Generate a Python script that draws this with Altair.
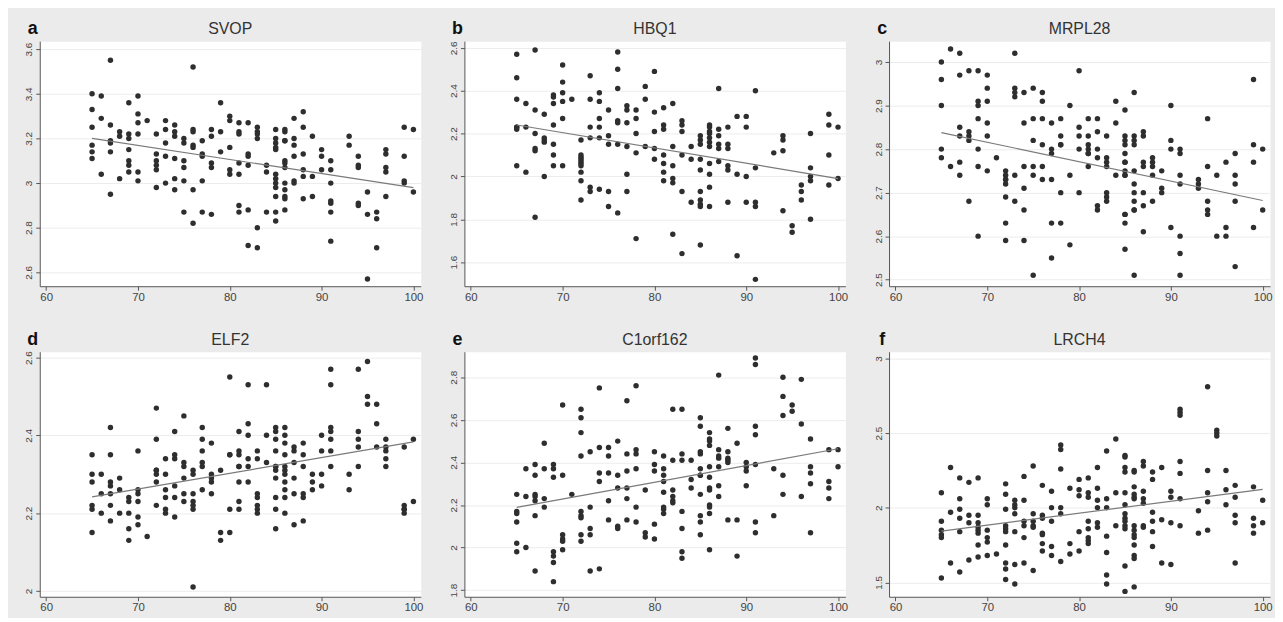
import altair as alt
import pandas as pd

X_TICKS = [60, 70, 80, 90, 100]
X_DOMAIN = [59.3, 100.8]
FIT_X = [65, 100]

SVOP = {
    65: [3.40, 3.33, 3.25, 3.17, 3.14, 3.11], 66: [3.39, 3.29, 3.04],
    67: [3.55, 3.26, 3.19, 3.18, 3.14, 2.95], 68: [3.23, 3.21, 3.02],
    69: [3.36, 3.22, 3.20, 3.15, 3.10, 3.08, 3.05], 70: [3.39, 3.31, 3.27, 3.22, 3.05, 3.01],
    71: [3.28], 72: [3.22, 3.13, 3.10, 3.08, 3.06, 2.98], 73: [3.28, 3.24, 3.18, 3.12, 3.00],
    74: [3.26, 3.23, 3.21, 3.11, 3.02, 2.97], 75: [3.20, 3.18, 3.10, 3.07, 3.01, 2.87],
    76: [3.52, 3.24, 3.23, 3.17, 3.16, 2.97, 2.82], 77: [3.19, 3.13, 3.12, 3.01, 2.87],
    78: [3.24, 3.21, 3.09, 3.07, 2.86], 79: [3.36, 3.23, 3.14], 80: [3.30, 3.28, 3.16, 3.06, 3.04],
    81: [3.27, 3.23, 3.22, 3.09, 3.04, 2.90, 2.87], 82: [3.27, 3.13, 3.12, 3.08, 2.88, 2.72],
    83: [3.25, 3.23, 3.22, 3.20, 2.80, 2.71], 84: [3.08, 3.05, 2.87],
    85: [3.24, 3.20, 3.18, 3.16, 3.15, 3.04, 3.02, 3.00, 2.98, 2.94, 2.87, 2.83],
    86: [3.24, 3.23, 3.19, 3.19, 3.10, 3.09, 3.07, 3.00, 2.97, 2.94, 2.93, 2.88],
    87: [3.29, 3.20, 3.17, 3.12, 3.01, 3.00], 88: [3.32, 3.25, 3.13, 3.06, 3.03, 2.93],
    89: [3.21, 3.03, 2.94], 90: [3.15, 3.12, 3.06], 91: [3.10, 3.06, 3.00, 2.92, 2.91, 2.87, 2.74],
    93: [3.21, 3.17], 94: [3.12, 3.08, 3.07, 2.91, 2.90], 95: [2.96, 2.86, 2.57],
    96: [2.87, 2.84, 2.71], 97: [3.15, 3.13, 3.07, 3.05, 2.94], 99: [3.25, 3.12, 3.01, 3.00],
    100: [3.24, 2.96],
}
HBQ1 = {
    65: [2.57, 2.46, 2.36, 2.23, 2.23, 2.22, 2.05], 66: [2.34, 2.23, 2.02],
    67: [2.59, 2.31, 2.20, 2.13, 2.12, 1.81], 68: [2.29, 2.18, 2.17, 2.16, 2.00],
    69: [2.38, 2.37, 2.34, 2.24, 2.15, 2.10, 2.05], 70: [2.52, 2.44, 2.39, 2.35, 2.27, 2.05],
    71: [2.36], 72: [2.17, 2.10, 2.09, 2.08, 2.07, 2.06, 2.05, 2.02, 1.98, 1.89],
    73: [2.47, 2.36, 2.23, 2.18, 1.95, 1.93], 74: [2.39, 2.35, 2.27, 2.23, 2.18, 1.94],
    75: [2.31, 2.19, 2.15, 1.93, 1.86], 76: [2.58, 2.50, 2.41, 2.26, 2.25, 2.15, 1.83],
    77: [2.33, 2.31, 2.25, 2.14, 2.01, 1.93], 78: [2.31, 2.27, 2.20, 2.11, 1.71],
    79: [2.42, 2.36, 2.14], 80: [2.49, 2.30, 2.21, 2.13, 2.08],
    81: [2.32, 2.24, 2.22, 2.10, 2.06, 2.02, 1.98], 82: [2.34, 2.14, 2.05, 1.99, 1.97, 1.73],
    83: [2.26, 2.24, 2.21, 2.10, 1.93, 1.64], 84: [2.14, 2.08, 1.88],
    85: [2.19, 2.17, 2.15, 2.08, 2.03, 1.93, 1.89, 1.87, 1.86, 1.68],
    86: [2.24, 2.23, 2.21, 2.20, 2.18, 2.16, 2.14, 2.06, 2.01, 1.95, 1.86],
    87: [2.41, 2.22, 2.19, 2.15, 2.13, 2.07], 88: [2.23, 2.15, 2.13, 2.05, 2.03, 1.88],
    89: [2.28, 2.01, 1.63], 90: [2.28, 2.23, 2.00, 1.88], 91: [2.40, 2.04, 1.88, 1.86, 1.52],
    93: [2.11], 94: [2.19, 2.17, 2.12, 1.84], 95: [1.77, 1.74], 96: [1.96, 1.93, 1.89],
    97: [2.20, 2.04, 2.00, 1.98, 1.80], 99: [2.29, 2.24, 2.10, 1.96], 100: [2.23, 1.99],
}
MRPL28 = {
    65: [3.00, 2.96, 2.90, 2.80, 2.78], 66: [3.03, 2.76], 67: [3.02, 2.97, 2.85, 2.83, 2.77, 2.74],
    68: [2.98, 2.84, 2.83, 2.82, 2.68], 69: [2.98, 2.91, 2.90, 2.87, 2.80, 2.76, 2.60],
    70: [2.97, 2.94, 2.91, 2.86, 2.83, 2.75], 71: [2.78],
    72: [2.75, 2.74, 2.73, 2.73, 2.72, 2.69, 2.63, 2.59], 73: [3.02, 2.94, 2.93, 2.92, 2.74, 2.68],
    74: [2.93, 2.86, 2.76, 2.71, 2.66, 2.59], 75: [2.94, 2.87, 2.82, 2.76, 2.74, 2.51],
    76: [2.93, 2.91, 2.87, 2.81, 2.76, 2.73], 77: [2.86, 2.80, 2.79, 2.73, 2.63, 2.55],
    78: [2.87, 2.83, 2.81, 2.81, 2.70, 2.63], 79: [2.90, 2.74, 2.58],
    80: [2.98, 2.85, 2.83, 2.80, 2.70], 81: [2.87, 2.83, 2.81, 2.80, 2.79, 2.79, 2.76],
    82: [2.87, 2.84, 2.80, 2.78, 2.67, 2.66], 83: [2.83, 2.78, 2.77, 2.76, 2.70, 2.69, 2.68],
    84: [2.91, 2.86, 2.74],
    85: [2.89, 2.83, 2.82, 2.81, 2.79, 2.77, 2.77, 2.75, 2.74, 2.74, 2.65, 2.65, 2.63, 2.57],
    86: [2.93, 2.83, 2.82, 2.81, 2.75, 2.72, 2.70, 2.68, 2.66, 2.66, 2.51],
    87: [2.84, 2.83, 2.77, 2.76, 2.70, 2.67, 2.61], 88: [2.78, 2.77, 2.76, 2.74, 2.68],
    89: [2.75, 2.71, 2.70], 90: [2.90, 2.82, 2.80, 2.62],
    91: [2.80, 2.79, 2.74, 2.72, 2.60, 2.56, 2.51], 93: [2.73, 2.72, 2.71],
    94: [2.87, 2.76, 2.68, 2.66, 2.65], 95: [2.74, 2.60], 96: [2.77, 2.62, 2.60],
    97: [2.79, 2.74, 2.72, 2.68, 2.53], 99: [2.96, 2.81, 2.77, 2.62], 100: [2.80, 2.66],
}
ELF2 = {
    65: [2.35, 2.30, 2.28, 2.22, 2.21, 2.15], 66: [2.30, 2.25, 2.20],
    67: [2.42, 2.35, 2.28, 2.27, 2.25, 2.22, 2.18], 68: [2.29, 2.26, 2.20],
    69: [2.24, 2.23, 2.20, 2.16, 2.13], 70: [2.36, 2.26, 2.25, 2.23, 2.19, 2.17], 71: [2.14],
    72: [2.47, 2.39, 2.31, 2.31, 2.30, 2.28, 2.22], 73: [2.34, 2.30, 2.26, 2.24, 2.21, 2.20],
    74: [2.41, 2.35, 2.34, 2.27, 2.24, 2.19], 75: [2.45, 2.33, 2.32, 2.29, 2.25, 2.23],
    76: [2.31, 2.30, 2.25, 2.23, 2.22, 2.21, 2.01], 77: [2.42, 2.39, 2.36, 2.33, 2.32, 2.26],
    78: [2.38, 2.30, 2.29, 2.28, 2.25], 79: [2.31, 2.15, 2.13], 80: [2.55, 2.35, 2.35, 2.21, 2.15],
    81: [2.41, 2.36, 2.35, 2.32, 2.32, 2.28, 2.23, 2.21], 82: [2.53, 2.43, 2.40, 2.34, 2.32, 2.28],
    83: [2.36, 2.34, 2.25, 2.24, 2.22, 2.21, 2.20], 84: [2.53, 2.40, 2.33],
    85: [2.42, 2.41, 2.39, 2.36, 2.32, 2.32, 2.31, 2.29, 2.24, 2.21, 2.16],
    86: [2.42, 2.40, 2.38, 2.35, 2.32, 2.31, 2.30, 2.28, 2.26, 2.24, 2.20],
    87: [2.37, 2.36, 2.33, 2.29, 2.25, 2.17], 88: [2.38, 2.35, 2.32, 2.25, 2.24, 2.18],
    89: [2.30, 2.28, 2.26], 90: [2.40, 2.36, 2.30, 2.27],
    91: [2.57, 2.53, 2.42, 2.41, 2.39, 2.36, 2.32], 93: [2.30, 2.26],
    94: [2.57, 2.41, 2.39, 2.37, 2.32], 95: [2.59, 2.50, 2.48], 96: [2.48, 2.43, 2.37],
    97: [2.39, 2.37, 2.36, 2.34, 2.32], 99: [2.37, 2.22, 2.21, 2.21, 2.20], 100: [2.39, 2.23],
}
C1ORF162 = {
    65: [2.25, 2.17, 2.16, 2.12, 2.02, 1.98], 66: [2.37, 2.24, 2.00],
    67: [2.39, 2.34, 2.25, 2.24, 2.22, 2.15, 1.89], 68: [2.49, 2.37, 2.23, 2.19],
    69: [2.39, 2.37, 2.33, 1.98, 1.96, 1.93, 1.84], 70: [2.67, 2.34, 2.06, 2.04, 2.03, 1.99],
    71: [2.25], 72: [2.65, 2.61, 2.54, 2.43, 2.17, 2.15, 2.14, 2.06, 2.03],
    73: [2.45, 2.19, 2.09, 2.06, 1.89], 74: [2.75, 2.47, 2.35, 2.31, 1.90],
    75: [2.47, 2.43, 2.35, 2.22, 2.13], 76: [2.50, 2.34, 2.28, 2.10, 2.09],
    77: [2.69, 2.44, 2.36, 2.28, 2.23, 2.13], 78: [2.76, 2.46, 2.44, 2.37, 2.19, 2.12],
    79: [2.27, 2.07, 2.05], 80: [2.45, 2.39, 2.36, 2.11, 2.04],
    81: [2.43, 2.37, 2.34, 2.31, 2.26, 2.19, 2.18, 2.16], 82: [2.65, 2.41, 2.27, 2.24, 2.22, 2.21],
    83: [2.65, 2.44, 2.41, 2.17, 2.09, 1.98, 1.95], 84: [2.41, 2.32, 2.28],
    85: [2.61, 2.57, 2.45, 2.44, 2.37, 2.34, 2.34, 2.25, 2.15, 2.12, 2.06],
    86: [2.54, 2.51, 2.50, 2.48, 2.38, 2.33, 2.28, 2.27, 2.20, 2.19, 2.16, 1.99],
    87: [2.81, 2.46, 2.43, 2.42, 2.38, 2.29, 2.24], 88: [2.56, 2.45, 2.42, 2.41, 2.40, 2.13],
    89: [2.49, 2.13, 1.96], 90: [2.40, 2.38, 2.36, 2.29],
    91: [2.89, 2.86, 2.57, 2.53, 2.39, 2.12, 2.07], 93: [2.37, 2.15],
    94: [2.80, 2.71, 2.62, 2.34, 2.25], 95: [2.67, 2.64], 96: [2.79, 2.58, 2.24],
    97: [2.51, 2.38, 2.35, 2.30, 2.07], 99: [2.46, 2.31, 2.28, 2.23], 100: [2.46, 2.38],
}
LRCH4 = {
    65: [2.10, 1.91, 1.85, 1.82, 1.80, 1.53], 66: [2.27, 1.97, 1.63],
    67: [2.20, 2.06, 1.99, 1.93, 1.84, 1.57], 68: [2.17, 1.95, 1.90, 1.65],
    69: [2.20, 1.95, 1.90, 1.87, 1.85, 1.83, 1.75, 1.67], 70: [2.06, 2.02, 1.85, 1.80, 1.77, 1.68],
    71: [1.69], 72: [2.16, 2.09, 1.99, 1.88, 1.86, 1.84, 1.75, 1.63, 1.59, 1.52],
    73: [2.05, 2.02, 2.00, 1.96, 1.84, 1.62, 1.49], 74: [2.21, 2.05, 1.91, 1.88, 1.80, 1.63],
    75: [2.28, 1.96, 1.91, 1.88, 1.87, 1.58], 76: [2.15, 1.95, 1.93, 1.83, 1.82, 1.76, 1.71],
    77: [2.11, 2.00, 1.91, 1.74, 1.68], 78: [2.42, 2.39, 2.26, 2.00, 1.96, 1.64],
    79: [2.13, 1.76, 1.69], 80: [2.19, 2.12, 2.08, 1.84, 1.71],
    81: [2.20, 2.10, 2.07, 1.91, 1.86, 1.80, 1.78, 1.76], 82: [2.27, 2.13, 2.05, 2.00, 1.90, 1.87],
    83: [2.38, 2.06, 2.00, 1.81, 1.70, 1.55, 1.49], 84: [2.46, 2.10, 1.88],
    85: [2.35, 2.34, 2.27, 2.24, 2.10, 2.02, 1.96, 1.93, 1.91, 1.88, 1.86, 1.61, 1.44],
    86: [2.25, 2.24, 2.14, 2.09, 2.07, 2.06, 1.88, 1.85, 1.82, 1.80, 1.75, 1.68, 1.66, 1.47],
    87: [2.31, 2.28, 2.11, 2.06, 2.03, 1.88, 1.87], 88: [2.24, 2.19, 1.97, 1.91, 1.84, 1.74],
    89: [2.27, 1.92, 1.63], 90: [2.11, 2.07, 1.90, 1.62],
    91: [2.66, 2.64, 2.62, 2.31, 2.23, 2.06, 1.88], 93: [1.98, 1.83],
    94: [2.81, 2.25, 2.10, 2.04, 1.85], 95: [2.52, 2.50, 2.48], 96: [2.25, 2.12, 2.02],
    97: [2.15, 2.07, 1.95, 1.90, 1.63], 99: [2.14, 1.93, 1.88, 1.83], 100: [2.05, 1.90],
}

LETTERS = ["a", "b", "c", "d", "e", "f"]
GENES = ["SVOP", "HBQ1", "MRPL28", "ELF2", "C1orf162", "LRCH4"]
POINTS = [SVOP, HBQ1, MRPL28, ELF2, C1ORF162, LRCH4]
Y_DOMAINS = [[2.538, 3.636], [1.488, 2.631], [2.485, 3.048],
             [1.985, 2.615], [1.769, 2.92], [1.404, 3.045]]
Y_TICKS = [[2.6, 2.8, 3.0, 3.2, 3.4, 3.6], [1.6, 1.8, 2.0, 2.2, 2.4, 2.6],
           [2.5, 2.6, 2.7, 2.8, 2.9, 3.0], [2.0, 2.2, 2.4, 2.6],
           [1.8, 2.0, 2.2, 2.4, 2.6, 2.8], [1.5, 2.0, 2.5, 3.0]]
FIT_Y = [[3.20, 2.98], [2.24, 1.99], [2.838, 2.682],
         [2.242, 2.383], [2.189, 2.464], [1.844, 2.123]]

FONT = "Liberation Sans"
W, H = 384, 247


def panel(i):
    df = pd.DataFrame([(x, y) for x, ys in POINTS[i].items() for y in ys], columns=["x", "y"])
    fit = pd.DataFrame({"x": FIT_X, "y": FIT_Y[i]})
    xenc = alt.X("x:Q", scale=alt.Scale(domain=X_DOMAIN, nice=False, zero=False),
                 axis=alt.Axis(values=X_TICKS, title=None, grid=False, labelFontSize=11.5,
                               labelPadding=1, tickSize=4, labelFlush=False))
    yenc = alt.Y("y:Q", scale=alt.Scale(domain=Y_DOMAINS[i], nice=False, zero=False),
                 axis=alt.Axis(values=Y_TICKS[i], title=None, grid=True, format="~g",
                               labelAngle=270, labelAlign="center", labelBaseline="bottom",
                               labelFontSize=10, labelPadding=2, tickSize=4))
    pts = alt.Chart(df).mark_circle(size=30, color="#2e2e2e", opacity=1).encode(x=xenc, y=yenc)
    line = alt.Chart(fit).mark_line(color="#7a7a7a", strokeWidth=1.2).encode(x="x:Q", y="y:Q")
    lab = alt.Chart(pd.DataFrame({"t": [LETTERS[i]]})).mark_text(
        font=FONT, fontSize=18, fontWeight="bold", color="#111", align="center",
        baseline="alphabetic").encode(text="t:N", x=alt.value(-7), y=alt.value(-7))
    ttl = alt.Chart(pd.DataFrame({"t": [GENES[i]]})).mark_text(
        font=FONT, fontSize=16, color="#333", align="center",
        baseline="alphabetic").encode(text="t:N", x=alt.value(W / 2), y=alt.value(-7))
    return alt.layer(pts, line, lab, ttl).properties(width=W, height=H)


row1 = alt.hconcat(panel(0), panel(1), panel(2), spacing=24)
row2 = alt.hconcat(panel(3), panel(4), panel(5), spacing=24)
chart = alt.vconcat(row1, row2, spacing=27).configure(
    background="#ebebeb", padding={"left": 15, "top": 9, "right": 2, "bottom": 2}
).configure_view(fill="white", stroke="transparent").configure_axis(
    domainColor="#555", tickColor="#555", labelColor="#444", labelFont=FONT,
    gridColor="#ececec", gridWidth=1
)

chart.save("out.html", embed_options={"renderer": "svg", "actions": False})
